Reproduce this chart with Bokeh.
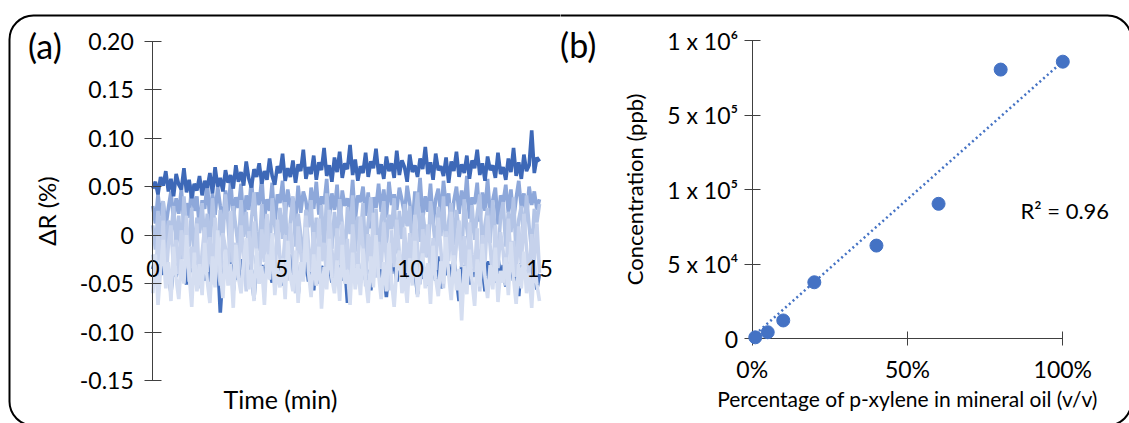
import numpy as np
from bokeh.plotting import figure
from bokeh.layouts import row
from bokeh.models import FixedTicker, Label, BoxAnnotation, Range1d, LinearAxis
from bokeh.embed import file_html
from bokeh.resources import INLINE

FONT = "Lato"
TXT = "#000000"
AXIS = "#404040"
TICK_FS = "23px"

# ---------------- panel (a): baseline drift, ΔR (%) vs time ----------------
n_samples = 150
t_min = np.linspace(0, 15, n_samples)          # regular sampling over 15 min

# values, in units of 0.001 %
dr_dark_high = [48, 55, 42, 60, 51, 66, 45, 58, 40, 63, 52, 47, 69, 44, 57,
                38, 53, 46, 61, 41, 56, 49, 64, 43, 70, 50, 59, 45, 67, 54,
                62, 48, 72, 55, 65, 51, 76, 58, 49, 68, 60, 74, 53, 66, 57,
                79, 61, 52, 71, 64, 84, 56, 69, 60, 77, 54, 73, 66, 88, 58,
                70, 63, 82, 57, 75, 67, 90, 61, 72, 55, 80, 65, 86, 59, 74,
                68, 93, 62, 78, 56, 71, 64, 85, 60, 76, 69, 89, 63, 73, 58,
                81, 66, 74, 59, 87, 62, 77, 70, 55, 83, 65, 72, 60, 79, 68,
                91, 63, 75, 57, 84, 67, 71, 61, 80, 54, 76, 66, 86, 60, 73,
                64, 82, 58, 77, 69, 88, 62, 74, 56, 81, 67, 72, 59, 85, 63,
                70, 57, 79, 65, 90, 61, 75, 58, 83, 66, 72, 108, 64, 80, 76]
dr_dark_low = [-35, -22, -48, -30, -41, -18, -36, -60, -28, -43, -24, -46, -32, -51, -26,
               -38, -20, -44, -34, -29, -47, -23, -55, -31, -40, -25, -80, -37, -27, -45,
               -22, -58, -33, -46, -25, -39, -47, -30, -36, -66, -21, -43, -31, -42, -27,
               -37, -49, -24, -45, -33, -52, -28, -40, -20, -46, -35, -62, -30, -43, -25,
               -48, -36, -57, -22, -50, -32, -39, -46, -29, -49, -34, -41, -23, -47, -31,
               -70, -38, -27, -43, -33, -49, -26, -46, -36, -57, -31, -42, -24, -47, -35,
               -64, -30, -40, -21, -48, -37, -44, -33, -50, -28, -42, -38, -61, -25, -45,
               -34, -52, -40, -29, -47, -22, -55, -36, -41, -30, -49, -26, -44, -68, -32,
               -39, -24, -51, -35, -43, -28, -46, -33, -58, -27, -42, -37, -49, -23, -45,
               -31, -53, -38, -26, -47, -34, -63, -29, -44, -36, -50, -25, -41, -56, -40]
dr_mid = [30, 12, 42, 20, 35, 8, 28, 45, 15, 38, 22, 48, 10, 33, 18,
          52, 25, 40, 5, 36, 27, 55, 14, 43, 21, 50, 30, 12, 46, 24,
          57, 18, 39, 28, 53, 11, 41, 26, 58, 20, 44, 31, 60, 16, 37,
          25, 54, 9, 42, 33, 56, 19, 47, 29, 38, 14, 51, 23, 45, 35,
          13, 49, 27, 55, 21, 40, 32, 58, 17, 43, 26, 52, 11, 46, 30,
          38, 22, 57, 15, 41, 34, 50, 20, 44, 7, 39, 28, 53, 24, 47,
          18, 55, 31, 42, 26, 49, 36, 21, 51, 33, 10, 45, 29, 59, 16,
          40, 24, 53, 12, 37, 48, 19, 56, 30, 43, 8, 35, 50, 22, 46,
          27, 61, 17, 39, 32, 54, 14, 44, 25, 58, 20, 36, 49, 11, 41,
          34, 52, 23, 47, 15, 38, 56, 28, 43, 19, 50, 31, 45, 26, 37]
dr_light = [10, -15, 25, -5, 35, -20, 15, 0, 30, -10, 20, -25, 40, 5, -12,
            28, -30, 18, 2, 33, -8, 22, -18, 38, 6, -22, 26, -3, 42, 12,
            -28, 30, 8, -14, 36, -2, 24, -20, 16, 44, 4, -16, 32, -6, 20,
            -26, 38, 10, -10, 28, -4, 34, -24, 14, 40, -12, 22, 0, -30, 26,
            8, 36, -18, 18, -6, 31, -22, 43, 3, -14, 24, -8, 37, 11, -27,
            29, 1, 41, -17, 19, -2, 33, -21, 13, 39, -9, 27, -25, 15, 35,
            -11, 21, 6, 38, -19, 25, -4, 32, 9, 30, -16, 17, 44, -7, 23,
            2, -23, 35, 12, -13, 29, -1, 40, -20, 14, 33, -10, 26, 5, -28,
            37, 7, -15, 31, -5, 22, 42, -18, 11, 28, -8, 36, 0, -24, 19,
            34, -12, 24, 3, 39, -21, 16, 30, -6, 41, 9, -17, 27, 13, 32]
dr_lighter = [-20, -45, 0, -30, 15, -50, -10, 10, -35, -5, -40, 5, -25, 20, -48,
              -12, -32, 12, -55, -18, 8, -38, -2, -44, 18, -26, -52, 2, -14, -42,
              25, -30, -8, -46, 10, -20, -58, 4, -36, 14, -16, -50, 6, -28, 22,
              -40, -6, -54, 16, -24, -34, 0, -47, 12, -22, -60, 9, -18, -43, 20,
              -10, -38, 3, -52, 17, -27, -8, -45, 26, -15, -49, 7, -31, 14, -41,
              -4, -56, 11, -21, -37, 19, -13, -53, 1, -29, 23, -44, -7, -35, 13,
              -25, -57, 5, -33, 16, -19, -48, 8, -39, 2, -30, 21, -11, -51, 6,
              -23, 11, -46, -3, -36, 18, -15, -55, 4, -27, 24, -41, -9, 15, -33,
              -1, -49, 13, -20, -38, 7, -58, 0, -28, 20, -12, -45, 10, -34, 3,
              -17, -52, 17, -24, -6, -43, 9, -31, 22, -14, -47, 1, -26, 12, -39]
dr_lightest = [-60, -20, -72, -35, -5, -55, -28, -68, -12, -45, -66, -25, -50, 0, -40,
               -74, -18, -58, -30, -62, -8, -48, -70, -22, -54, 5, -38, -65, -15, -52,
               -30, -75, -10, -44, -60, -26, -3, -56, -36, -68, -14, -50, -32, -72, -20,
               -46, 2, -62, -34, -54, -24, -66, -6, -42, -58, -16, -70, -28, -48, 8,
               -38, -64, -20, -52, -12, -76, -33, -56, -4, -44, -60, -26, -68, -10, -50,
               -36, -72, -18, -56, -30, -62, -14, -46, -70, -22, -54, 0, -40, -66, -28,
               -58, -8, -48, -74, -34, -16, -60, -42, -70, -24, -52, -6, -64, -38, -19,
               -55, -29, -71, -11, -45, -63, -27, -50, -2, -41, -67, -21, -57, -35, -88,
               -32, -61, -15, -47, -73, -25, -53, -9, -43, -65, -31, -56, -13, -69, -37,
               -49, -23, -62, -7, -44, -71, -30, -55, -17, -60, -39, -75, -26, -51, -68]

# drawing order (first is underneath)
series_a = [dr_dark_low, dr_mid, dr_dark_high, dr_light, dr_lighter, dr_lightest]
colors_a = ["#4470BE", "#8EA8DA", "#3D68B7", "#B3C4E6", "#C6D2EC", "#D5DEF1"]

y_ticks_a = [-0.15, -0.10, -0.05, 0.0, 0.05, 0.10, 0.15, 0.20]
y_tick_labels_a = ["-0.15", "-0.10", "-0.05", "0", "0.05", "0.10", "0.15", "0.20"]
x_ticks_a = [0, 5, 10, 15]
x_tick_labels_a = ["0", "5", "10", "15"]

# ---------------- panel (b): calibration ----------------
pct_pxylene = [1, 5, 10, 20, 40, 60, 80, 100]
conc_ppb = [1000, 4400, 12300, 37900, 62500, 90500, 805000, 858000]
conc_ticks = [0, 5e4, 1e5, 5e5, 1e6]
conc_tick_labels = ["0", "5 x 10\u2074", "1 x 10\u2075", "5 x 10\u2075", "1 x 10\u2076"]
trend_pct = [1, 100]
trend_conc_ppb = [3000, 860000]
r2_text = "R\u00b2 = 0.96"
x_ticks_b = [0, 50, 100]
x_tick_labels_b = ["0%", "50%", "100%"]

# the axis is evenly spaced between its labelled values
tick_pos = [int(v) for v in np.arange(len(conc_ticks))]
level = np.interp(conc_ppb, conc_ticks, tick_pos)
trend_level = np.interp(trend_conc_ppb, conc_ticks, tick_pos)

# ---------------- layout (pixels) ----------------
W_A, W_B, H = 560, 569, 423


class Map:
    """linear data<->pixel map for one canvas dimension (pixels from left/top)."""
    def __init__(self, v0, p0, v1, p1):
        self.v0, self.p0 = v0, p0
        self.k = (p1 - p0) / (v1 - v0)

    def inv(self, p):
        return self.v0 + (p - self.p0) / self.k


ax_a = Map(0, 152.3, 15, 539.0)
ay_a = Map(0.20, 40.7, -0.15, 380.0)
ax_b = Map(0, 191.7, 100, 502.3)
ay_b = Map(4, 40.0, 0, 338.3)


def style_axis(ax, title_fs="24px"):
    ax.major_label_text_font = FONT
    ax.major_label_text_font_size = TICK_FS
    ax.major_label_text_color = TXT
    ax.axis_label_text_font = FONT
    ax.axis_label_text_font_size = title_fs
    ax.axis_label_text_font_style = "normal"
    ax.axis_label_text_color = TXT
    ax.minor_tick_line_color = None
    ax.axis_line_color = AXIS
    ax.major_tick_line_color = AXIS


def border(p, mx, my, left_px, right_px):
    p.add_layout(BoxAnnotation(left=mx.inv(left_px), right=mx.inv(right_px),
                               top=my.inv(15), bottom=my.inv(H + 2),
                               fill_color=None, line_color="black", line_alpha=1.0,
                               line_width=2, border_radius=24, level="overlay"))


def make_fig(w, mx, my):
    p = figure(width=w, height=H, title=None,
               x_range=Range1d(mx.inv(0), mx.inv(w)), y_range=Range1d(my.inv(H), my.inv(0)),
               output_backend="svg", toolbar_location=None, min_border=0)
    p.min_border_left = p.min_border_right = p.min_border_top = p.min_border_bottom = 0
    p.outline_line_color = None
    p.grid.visible = False
    return p


# ---- figure a
pa = make_fig(W_A, ax_a, ay_a)
for vals, col in zip(series_a, colors_a):
    pa.line(t_min, np.array(vals) / 1000.0, line_color=col, line_width=3.6)

ya = pa.yaxis[0]
style_axis(ya, "24px")
ya.fixed_location = 0
ya.bounds = (y_ticks_a[0], y_ticks_a[-1])
ya.ticker = FixedTicker(ticks=y_ticks_a)
ya.major_label_overrides = dict(zip(y_ticks_a, y_tick_labels_a))
ya.major_tick_in = 9
ya.major_tick_out = 8
ya.major_label_standoff = 11
ya.axis_label = "\u0394R (%)"
ya.axis_label_standoff = 16

xa = pa.xaxis[0]
style_axis(xa)
xa.fixed_location = 0
xa.bounds = (x_ticks_a[0], x_ticks_a[-1])
xa.ticker = FixedTicker(ticks=x_ticks_a)
xa.major_label_overrides = dict(zip(x_ticks_a, x_tick_labels_a))
xa.axis_line_color = None
xa.major_tick_line_color = None
xa.major_tick_in = 0
xa.major_tick_out = 0
xa.major_label_standoff = 25

xa_title = LinearAxis(fixed_location=y_ticks_a[0], ticker=FixedTicker(ticks=[]),
                      axis_label="Time (min)")
style_axis(xa_title, "25px")
xa_title.axis_line_color = None
xa_title.axis_label_standoff = 3
pa.add_layout(xa_title, "below")

pa.add_layout(Label(x=0, y=y_ticks_a[-1], x_offset=-108, y_offset=-4, text="(a)",
                    text_align="center", text_baseline="middle", text_font=FONT,
                    text_font_size="34px", text_color=TXT))
border(pa, ax_a, ay_a, 9, 3000)

# ---- figure b
pb = make_fig(W_B, ax_b, ay_b)
pb.line(trend_pct, trend_level, line_color="#4472C4", line_width=2.5, line_dash="2 3")
pb.scatter(pct_pxylene, level, size=13, fill_color="#4472C4", line_color="#4472C4")

xb = pb.xaxis[0]
style_axis(xb, "21px")
xb.level = "underlay"
xb.fixed_location = 0
xb.bounds = (x_ticks_b[0], x_ticks_b[-1])
xb.ticker = FixedTicker(ticks=x_ticks_b)
xb.major_label_overrides = dict(zip(x_ticks_b, x_tick_labels_b))
xb.major_tick_in = 7
xb.major_tick_out = 7
xb.major_label_standoff = 9
xb.axis_label = "Percentage of p-xylene in mineral oil (v/v)"
xb.axis_label_standoff = 0

yb = pb.yaxis[0]
style_axis(yb, "22px")
yb.level = "underlay"
yb.fixed_location = 0
yb.bounds = (tick_pos[0], tick_pos[-1])
yb.ticker = FixedTicker(ticks=tick_pos)
yb.major_label_overrides = dict(zip(tick_pos, conc_tick_labels))
yb.major_tick_in = 8
yb.major_tick_out = 8
yb.major_label_standoff = 6
yb.axis_label = "Concentration (ppb)"
yb.axis_label_standoff = 17

pb.add_layout(Label(x=100, y=2, x_offset=2, y_offset=-21, text=r2_text, text_align="center",
                    text_baseline="middle", text_font=FONT, text_font_size="22px",
                    text_color=TXT))
pb.add_layout(Label(x=0, y=4, x_offset=-174, y_offset=-4, text="(b)", text_align="center",
                    text_baseline="middle", text_font=FONT, text_font_size="34px",
                    text_color=TXT))
border(pb, ax_b, ay_b, -3000, W_B + 2)

layout = row(pa, pb)
open("out.html", "w").write(file_html(layout, INLINE))
